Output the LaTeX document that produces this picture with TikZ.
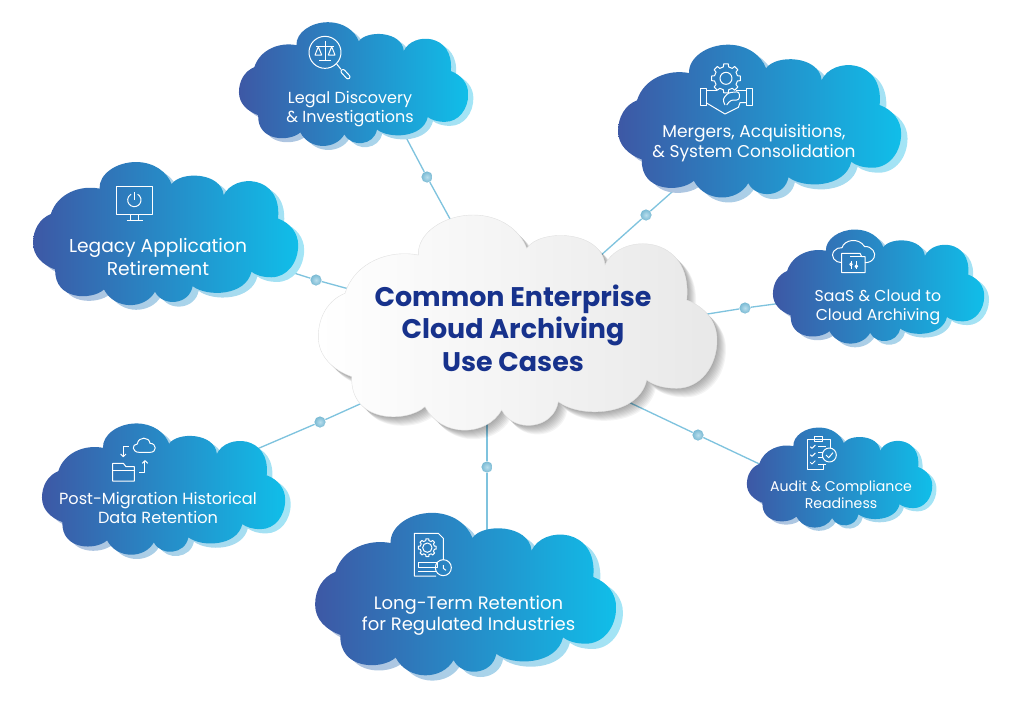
\documentclass[tikz,border=0pt]{standalone}
\usepackage{fontspec}
\setmainfont{Poppins}
\usetikzlibrary{positioning}

\definecolor{cloudleft}{HTML}{3D58A5}
\definecolor{cloudmid}{HTML}{2488C3}
\definecolor{cloudright}{HTML}{10BEE9}
\definecolor{backleft}{HTML}{B0BEDC}
\definecolor{backmid}{HTML}{A6D0E8}
\definecolor{backright}{HTML}{A3E5F6}
\definecolor{linkblue}{HTML}{7FC3DE}
\definecolor{titleblue}{HTML}{17328C}

\tikzset{
    linkline/.style={linkblue, line width=1pt},
    linkdot/.style={circle, minimum size=8.4pt, inner sep=0pt, inner color=linkblue!55, outer color=linkblue!95!black},
    iconline/.style={draw=white, line width=0.75pt, line join=round},
    cloudlabel/.style={text=white, align=center},
    frontfill/.style={left color=cloudleft, middle color=cloudmid, right color=cloudright},
    backfill/.style={left color=backleft, middle color=backmid, right color=backright}
}

% cloud outline, centred on the origin
\newcommand{\cloudoutline}{
    (-172.5,-29.2)
    .. controls (-162.5,-60.8) and (-127.5,-73.2) .. (-99.2,-67.5)
    .. controls (-100.2,-89.2) and (-74.2,-107.5) .. (-44.2,-107.5)
    .. controls (-17.5,-107.5) and (2.5,-92.5) .. (9.2,-74.2)
    .. controls (22.5,-94.2) and (84.2,-92.5) .. (87.5,-57.5)
    .. controls (102.5,-90.8) and (175.8,-89.2) .. (169.2,-22.5)
    .. controls (187.5,-15.8) and (199.5,-0.8) .. (199.5,17.5)
    .. controls (199.5,44.2) and (182.5,65.8) .. (159.2,65.8)
    .. controls (145.8,65.8) and (135.8,62.5) .. (129.2,57.5)
    .. controls (120.8,94.2) and (62.5,95.8) .. (40.8,79.2)
    .. controls (35.8,107.5) and (-4.2,110.8) .. (-15.8,87.5)
    .. controls (-30.8,114.2) and (-75.8,115.8) .. (-92.5,84.2)
    .. controls (-110.8,100.8) and (-167.5,100.8) .. (-165.8,54.2)
    .. controls (-184.2,47.5) and (-199.2,34.2) .. (-199.2,14.2)
    .. controls (-199.2,-5.8) and (-189.2,-22.5) .. (-172.5,-29.2)
    -- cycle
}

% blue cloud with its pale copy behind: centre x, centre y, scale
\newcommand{\bluecloud}[3]{
    \begin{scope}[shift={(#1,#2)}, scale=#3]
        \path[backfill, shift={(9,7)}] \cloudoutline;
        \path[frontfill] \cloudoutline;
    \end{scope}
}

% gear outline: centre x, centre y, radius
\newcommand{\gearicon}[3]{
    \begin{scope}[shift={(#1,#2)}, scale=#3]
        \draw[iconline] (-13:0.8) \foreach \a in {0,45,...,315} { -- (\a-13:0.8) -- (\a-9:1) -- (\a+9:1) -- (\a+13:0.8) } -- cycle;
    \end{scope}
}

\begin{document}
\begin{tikzpicture}[x=0.75pt, y=-0.75pt]
    \useasboundingbox (0,0) rectangle (1025,711);

    % free ends of the links, hidden under the clouds
    \coordinate (legalend) at (400,126);
    \coordinate (legalhub) at (455,228);
    \coordinate (mergersend) at (690,176);
    \coordinate (mergershub) at (590,265);
    \coordinate (legacyend) at (275,267);
    \coordinate (legacyhub) at (360,292);
    \coordinate (saasend) at (790,302);
    \coordinate (saashub) at (695,316);
    \coordinate (auditend) at (770,469);
    \coordinate (audithub) at (620,398);
    \coordinate (postend) at (250,452);
    \coordinate (posthub) at (380,395);
    \coordinate (longend) at (487,540);
    \coordinate (longhub) at (487,410);

    % dots on the links
    \node[linkdot] (legaldot) at (427,177) {};
    \node[linkdot] (mergersdot) at (646,215) {};
    \node[linkdot] (legacydot) at (316,280) {};
    \node[linkdot] (saasdot) at (745,308) {};
    \node[linkdot] (auditdot) at (698,435) {};
    \node[linkdot] (postdot) at (320,422) {};
    \node[linkdot] (longdot) at (487,467) {};

    % links
    \draw[linkline] (legalend) -- (legaldot);
    \draw[linkline] (legaldot) -- (legalhub);
    \draw[linkline] (mergersend) -- (mergersdot);
    \draw[linkline] (mergersdot) -- (mergershub);
    \draw[linkline] (legacyend) -- (legacydot);
    \draw[linkline] (legacydot) -- (legacyhub);
    \draw[linkline] (saasend) -- (saasdot);
    \draw[linkline] (saasdot) -- (saashub);
    \draw[linkline] (auditend) -- (auditdot);
    \draw[linkline] (auditdot) -- (audithub);
    \draw[linkline] (postend) -- (postdot);
    \draw[linkline] (postdot) -- (posthub);
    \draw[linkline] (longend) -- (longdot);
    \draw[linkline] (longdot) -- (longhub);

    % blue clouds
    \bluecloud{353.5}{84}{0.575}
    \bluecloud{759.5}{121}{0.71}
    \bluecloud{165.5}{233.5}{0.665}
    \bluecloud{878.5}{286.5}{0.53}
    \bluecloud{839.5}{477.5}{0.465}
    \bluecloud{163.5}{489}{0.61}
    \bluecloud{465.5}{594}{0.755}

    % centre cloud with a soft shadow
    \begin{scope}[shift={(517.5,322.5)}]
        \foreach \d in {1,...,9} {
            \fill[black, opacity=0.045, shift={(\d,\d)}] \cloudoutline;
        }
        \path[left color=white, right color=black!9, draw=black!12, line width=0.3pt] \cloudoutline;
    \end{scope}
    \node[text=titleblue, align=center, font=\fontsize{20.2}{24.4}\selectfont\bfseries] (hublabel) at (513,328) {Common Enterprise\\Cloud Archiving\\Use Cases};

    % labels
    \node[cloudlabel, font=\fontsize{12}{14.6}\selectfont] (legallabel) at (350,109) {Legal Discovery\\\& Investigations};
    \node[cloudlabel, font=\fontsize{12.8}{15}\selectfont] (mergerslabel) at (754,143) {Mergers, Acquisitions,\\\& System Consolidation};
    \node[cloudlabel, font=\fontsize{14}{16.6}\selectfont] (legacylabel) at (158,257) {Legacy Application\\Retirement};
    \node[cloudlabel, font=\fontsize{11.8}{14}\selectfont] (saaslabel) at (878,307) {SaaS \& Cloud to\\Cloud Archiving};
    \node[cloudlabel, font=\fontsize{10.6}{12.8}\selectfont] (auditlabel) at (841,495) {Audit \& Compliance\\Readiness};
    \node[cloudlabel, font=\fontsize{12.1}{14.4}\selectfont] (postlabel) at (158,508) {Post-Migration Historical\\Data Retention};
    \node[cloudlabel, font=\fontsize{13.5}{15.8}\selectfont] (longlabel) at (468.5,616) {Long-Term Retention\\for Regulated Industries};

    % icon: scales under a magnifier
    \begin{scope}[shift={(230,10)}, scale=1/3]
        \draw[iconline] (285,127) circle[radius=48];
        \draw[iconline] (320,162) -- (333,178);
        \draw[iconline, rounded corners=1.5pt] (339.5,176) -- (362.5,201) -- (353.5,209) -- (330.5,184) -- cycle;
        \draw[iconline] (285,92) -- (285,150);
        \draw[iconline] (268,152) -- (302,152);
        \draw[iconline] (258,108) -- (312,108);
        \draw[iconline] (265,110) -- (255,135) -- (275,135) -- cycle;
        \draw[iconline] (305,110) -- (295,135) -- (315,135) -- cycle;
    \end{scope}

    % icon: gear over a handshake
    \begin{scope}[shift={(610,50)}, scale=1/3]
        \gearicon{348}{85}{44}
        \draw[iconline] (348,85) circle[radius=18];
        \draw[iconline] (270,115) rectangle (288,165);
        \draw[iconline] (410,115) rectangle (428,165);
        \draw[iconline] (288,120) -- (322,120);
        \draw[iconline] (378,120) -- (410,120);
        \draw[iconline] (288,158) -- (345,192) -- (385,172) -- (390,158) -- (410,158);
        \draw[iconline, rounded corners=2pt] (345,165) -- (338,148) -- (355,128) -- (388,125) -- (388,150) -- (362,150) -- (350,165);
    \end{scope}

    % icon: monitor with power sign
    \begin{scope}[shift={(25,155)}, scale=1/3]
        \draw[iconline] (275,95) rectangle (383,177);
        \draw[iconline] (318,177) -- (318,195);
        \draw[iconline] (342,177) -- (342,195);
        \draw[iconline] (305,195) -- (353,195);
        \draw[iconline] (328,112) -- (328,135);
        \draw[iconline] (338,117.7) arc[start angle=-60, end angle=240, radius=20];
    \end{scope}

    % icon: folder under a cloud
    \begin{scope}[shift={(770,225)}, scale=1/3]
        \draw[iconline] (215,113) .. controls (195,113) and (180,95) .. (192,78)
            .. controls (197,70) and (208,68) .. (216,68)
            .. controls (222,45) and (265,35) .. (284,65)
            .. controls (305,62) and (320,85) .. (312,98)
            .. controls (307,108) and (298,113) .. (285,113);
        \draw[iconline] (215,85) -- (270,85) -- (275,95) -- (285,95) -- (285,143) -- (215,143) -- cycle;
        \draw[iconline] (240,95) -- (285,95);
        \draw[iconline] (243,108) -- (243,132);
        \draw[iconline] (259,108) -- (259,132);
        \draw[iconline] (243,118) circle[radius=4];
        \draw[iconline] (259,124) circle[radius=4];
    \end{scope}

    % icon: clipboard with check marks
    \begin{scope}[shift={(740,420)}, scale=1/3]
        \draw[iconline] (250,133) -- (250,147) -- (202,147) -- (202,57) -- (270,57) -- (270,85);
        \draw[iconline] (222,50) rectangle (248,64);
        \foreach \y in {80,104,127} {
            \draw[iconline] (211,\y) -- (216,\y+5) -- (226,\y-5);
        }
        \draw[iconline] (235,80) -- (258,80);
        \draw[iconline] (235,97) -- (250,97);
        \draw[iconline] (235,112) -- (248,112);
        \draw[iconline] (235,133) -- (258,133);
        \draw[iconline] (268,105) circle[radius=21];
        \draw[iconline] (258,105) -- (266,113) -- (279,98);
    \end{scope}

    % icon: folder, cloud and two arrows
    \begin{scope}[shift={(30,420)}, scale=1/3]
        \draw[iconline] (248,130) -- (280,130) -- (288,140) -- (313,140) -- (313,183) -- (248,183) -- cycle;
        \draw[iconline] (248,152) -- (313,152);
        \draw[iconline] (328,97) .. controls (305,97) and (305,72) .. (322,72)
            .. controls (325,48) and (358,50) .. (360,70)
            .. controls (380,70) and (382,97) .. (360,97) -- cycle;
        \draw[iconline] (297,78) -- (280,78) -- (280,110);
        \draw[iconline] (272,102) -- (280,110) -- (288,102);
        \draw[iconline] (328,158) -- (345,158) -- (345,122);
        \draw[iconline] (337,130) -- (345,122) -- (353,130);
    \end{scope}

    % icon: document with gear and clock
    \begin{scope}[shift={(310,510)}, scale=1/3]
        \draw[iconline] (378,198) -- (313,198) -- (313,70) -- (385,70) -- (400,85) -- (400,150);
        \gearicon{352}{113}{27}
        \draw[iconline] (352,113) circle[radius=14];
        \draw[iconline] (325,157) rectangle (382,172);
        \draw[iconline] (325,185) -- (378,185);
        \draw[iconline] (400,173) circle[radius=24];
        \draw[iconline] (400,165) -- (400,175) -- (408,181);
    \end{scope}
\end{tikzpicture}
\end{document}
